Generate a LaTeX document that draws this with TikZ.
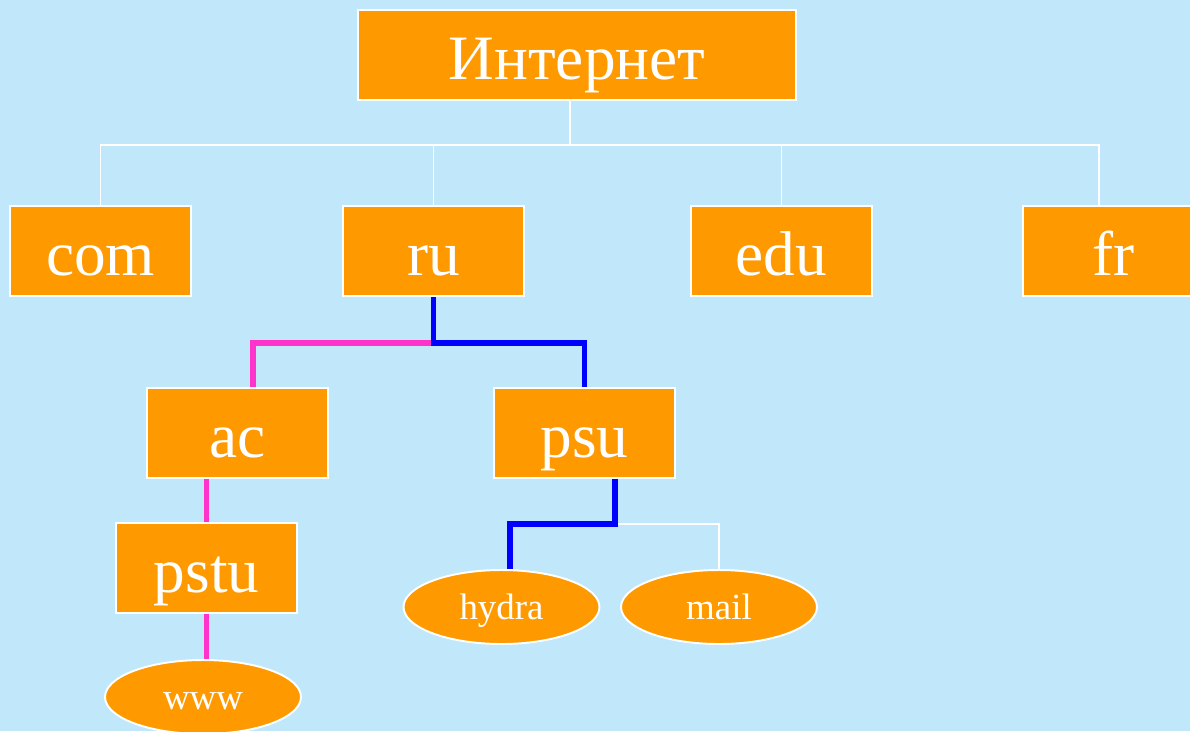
\documentclass[tikz,border=0pt]{standalone}
\usepackage{fontspec}
\setmainfont{Liberation Serif}
\usepackage{tikz}
\usetikzlibrary{shapes.geometric}
\definecolor{sky}{RGB}{192,232,250}
\definecolor{orng}{RGB}{255,153,0}
\definecolor{pinkline}{RGB}{255,51,204}
\definecolor{blueline}{RGB}{0,0,255}

\begin{document}
\begin{tikzpicture}[x=0.02cm,y=-0.02cm,
		zonebox/.style={draw=white,line width=1.1pt,fill=orng,text=white,minimum width=3.62cm,minimum height=1.8cm,inner sep=0pt,text height=27.4pt,text depth=0pt,font=\fontsize{36}{40}\selectfont},
		hostbox/.style={ellipse,draw=white,line width=1.1pt,fill=orng,text=white,minimum width=3.92cm,minimum height=1.48cm,inner sep=0pt,text height=14.7pt,text depth=0pt,font=\fontsize{21}{24}\selectfont},
		tree/.style={draw=white,line width=0.85pt},
		pinkpath/.style={draw=pinkline,line width=3.4pt},
		bluepath/.style={draw=blueline,line width=3.4pt}]
		\fill[sky] (0,0) rectangle (1190,731);
		\useasboundingbox (0,0) rectangle (1190,731);
		%top level
		\node [zonebox,minimum width=8.76cm] (inet) at (577,55) {Интернет};
		\node [zonebox] (com) at (100.5,251) {com};
		\node [zonebox] (ru) at (433.5,251) {ru};
		\node [zonebox] (edu) at (781.5,251) {edu};
		\node [zonebox] (fr) at (1113.5,251) {fr};
		\coordinate (bus) at (570,145);
		\draw [tree] (inet.south -| bus) -- (bus);
		\draw [tree] (com.north) |- ([xshift=-0.29cm]fr.north |- bus) -- ([xshift=-0.29cm]fr.north);
		\draw [tree] (ru.north) -- (ru.north |- bus);
		\draw [tree] (edu.north) -- (edu.north |- bus);
		%second level
		\node [zonebox] (ac) at (237.5,433) {ac};
		\node [zonebox] (psu) at (584.5,433) {psu};
		\node [zonebox] (pstu) at (206.5,568) {pstu};
		\node [hostbox] (www) at (203,697) {www};
		\node [hostbox] (hydra) at (501.5,607) {hydra};
		\node [hostbox] (mail) at (719,607) {mail};
		%path to www
		\draw [pinkpath] (ru.south) ++(0,46) -| ([xshift=0.31cm]ac.north);
		\draw [pinkpath] (ac.south -| pstu) -- (pstu.north);
		\draw [pinkpath] (pstu.south) -- (pstu.south |- www.north);
		%path to hydra
		\draw [tree] ([xshift=0.61cm]psu.south) ++(0,45) -| (mail.north);
		\draw [bluepath] (ru.south) -- ++(0,46) -| (psu.north);
		\draw [bluepath] ([xshift=0.61cm]psu.south) -- ++(0,45) -| ([xshift=0.17cm]hydra.north);
\end{tikzpicture}
\end{document}
